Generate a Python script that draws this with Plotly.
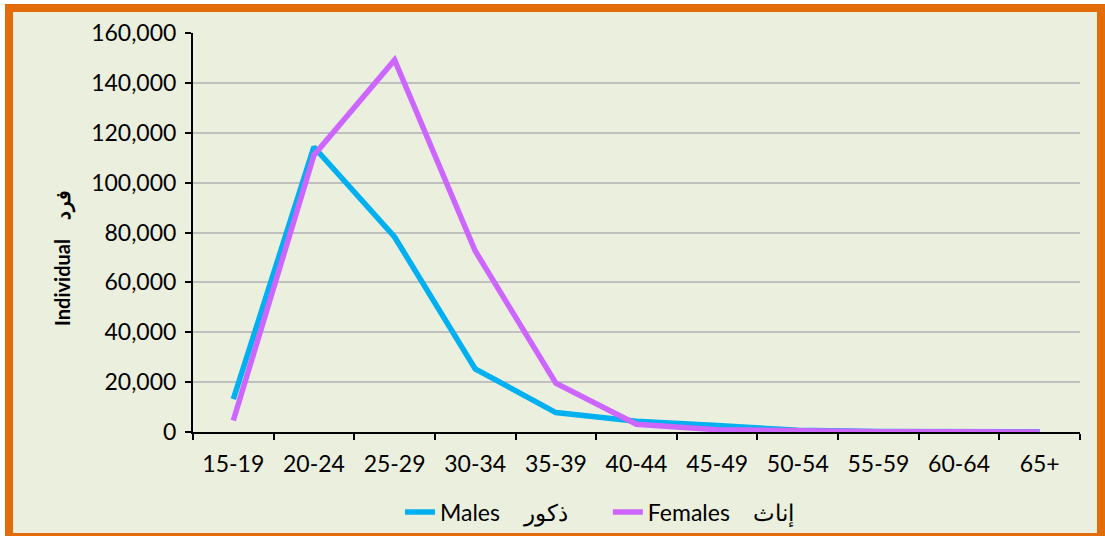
import plotly.graph_objects as go

categories = ["15-19", "20-24", "25-29", "30-34", "35-39", "40-44", "45-49", "50-54", "55-59", "60-64", "65+"]
males = [13200, 114300, 78200, 25300, 7800, 4300, 2600, 700, 250, 120, 60]
females = [4600, 111000, 149200, 72600, 19600, 3100, 900, 250, 120, 60, 30]
y_ticks = [0, 20000, 40000, 60000, 80000, 100000, 120000, 140000, 160000]

W, H = 1105, 536
L, R, T, B = 193, 25, 33, 104
pw, ph = W - L - R, H - T - B

def px(x):
    return (x - L) / pw

def py(y):
    return (H - B - y) / ph

BG = "#EBEFDE"
ORANGE = "#E36C0A"
FONT = "Lato"
NB = "\u00a0"

fig = go.Figure()
fig.add_trace(go.Scatter(x=categories, y=males, mode="lines",
                         name="Males" + NB * 4 + "ذكور" + NB * 6,
                         line=dict(color="#00B0F0", width=5.5)))
fig.add_trace(go.Scatter(x=categories, y=females, mode="lines",
                         name="Females" + NB * 4 + "إناث",
                         line=dict(color="#CC66FF", width=5.5)))

fig.add_shape(type="rect", xref="paper", yref="paper", layer="below",
              x0=px(9), x1=px(1101), y0=py(8), y1=py(537),
              line=dict(color=ORANGE, width=8), fillcolor=BG)

fig.add_annotation(text="<b>Individual" + NB * 4 + "فرد</b>", xref="paper", yref="paper",
                   x=px(48), y=py(258), textangle=-90, showarrow=False,
                   font=dict(family=FONT, size=20, color="black"))

fig.update_layout(
    width=W, height=H,
    margin=dict(l=L, r=R, t=T, b=B, autoexpand=False),
    paper_bgcolor="white",
    plot_bgcolor="rgba(0,0,0,0)",
    font=dict(family=FONT, size=23, color="black"),
    showlegend=True,
    legend=dict(orientation="h", x=px(600), xanchor="center", y=py(512), yanchor="middle",
                font=dict(family=FONT, size=23), bgcolor="rgba(0,0,0,0)",
                tracegroupgap=0),
)
fig.update_xaxes(type="category", range=[-0.5, 10.5], tickson="boundaries",
                 ticks="outside", ticklen=6, tickwidth=2, tickcolor="black",
                 showline=True, linecolor="black", linewidth=2, showgrid=False,
                 tickfont=dict(family=FONT, size=23), ticklabelstandoff=10, fixedrange=True)
fig.update_yaxes(range=[0, 160000], tickvals=y_ticks, tickformat=",",
                 ticks="outside", ticklen=6, tickwidth=2, tickcolor="black",
                 showline=True, linecolor="black", linewidth=2,
                 showgrid=True, gridcolor="#BFBFBF", gridwidth=1.5, zeroline=False,
                 tickfont=dict(family=FONT, size=23), ticklabelstandoff=4, fixedrange=True)

fig.write_html("out.html", config={"displayModeBar": False},
               post_script="document.body.style.margin='0';")
